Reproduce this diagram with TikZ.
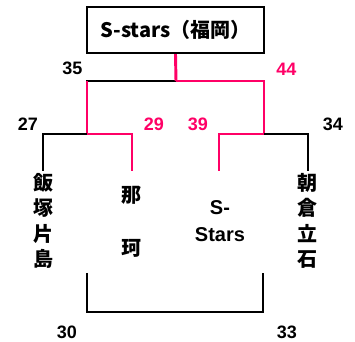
\documentclass[tikz,border=0pt]{standalone}
\usepackage{fontspec}
\setmainfont{Liberation Sans}
\newfontfamily\jpfont{Noto Sans CJK JP}
\definecolor{hot}{RGB}{255,0,102}

\begin{document}
\begin{tikzpicture}[x=0.75pt,y=-0.75pt,
    win/.style={draw=hot, line width=2.2pt},
    lose/.style={draw=black, line width=2.2pt},
    third/.style={draw=black, line width=1.6pt},
    score/.style={font=\bfseries\fontsize{13.5}{14}\selectfont, inner sep=0pt},
    team/.style={font=\jpfont\bfseries\fontsize{15}{19.1}\selectfont, align=center, inner sep=0pt}]
    \useasboundingbox (0,0) rectangle (355,342);
    % tournament heights
    \def\yf{81}
    \def\ys{134}
    \def\ye{171}
    \coordinate (f0) at (176,\yf);
    \coordinate (f1) at (87,\yf);
    \coordinate (f2) at (264,\yf);
    \coordinate (l0) at (87,\ys);
    \coordinate (l1) at (43,\ys);
    \coordinate (l2) at (132,\ys);
    \coordinate (r0) at (264,\ys);
    \coordinate (r1) at (219,\ys);
    \coordinate (r2) at (308,\ys);
    \node[draw, line width=1.7pt, minimum width=132.75pt, minimum height=34.5pt,
          font=\jpfont\bfseries\fontsize{15}{15}\selectfont] (champ) at (175.5,30) {S-stars（福岡）};
    \node[team] (iizuka) at (43,221) {飯\\塚\\片\\島};
    \node[team] (naka) at (132,221.5) {那\\[20.6pt]珂};
    \node[team, font=\bfseries\fontsize{15}{20.25}\selectfont] (sstars) at (220,221.5) {S-\\Stars};
    \node[team] (asakura) at (308,221) {朝\\倉\\立\\石};
    % final
    \draw[lose, shorten >=-1.1pt] (f0) -- (f1);
    \draw[win] (champ.south) -- (f0);
    \draw[win] (f0) -- (f2) -- (r0);
    \draw[win] (f1) -- (l0);
    % semi finals
    \draw[lose] (l1 |- 0,\ye) -- (l1) -- (l0);
    \draw[win] (l0) -- (l2) -- (l2 |- 0,\ye);
    \draw[win] (r0) -- (r1) -- (r1 |- 0,\ye);
    \draw[lose] (r0) -- (r2) -- (r2 |- 0,\ye);
    % third place
    \draw[third] (87,273) -- (87,312) -- (263,312) -- (263,273);
    % scores
    \node[score] (s35) at (72.5,68.5) {35};
    \node[score, text=hot] (s44) at (286.5,69) {44};
    \node[score] (s27) at (28,124) {27};
    \node[score, text=hot] (s29) at (154,124) {29};
    \node[score, text=hot] (s39) at (198,124) {39};
    \node[score] (s34) at (333,124) {34};
    \node[score] (s30) at (67,332) {30};
    \node[score] (s33) at (287,332) {33};
\end{tikzpicture}
\end{document}
